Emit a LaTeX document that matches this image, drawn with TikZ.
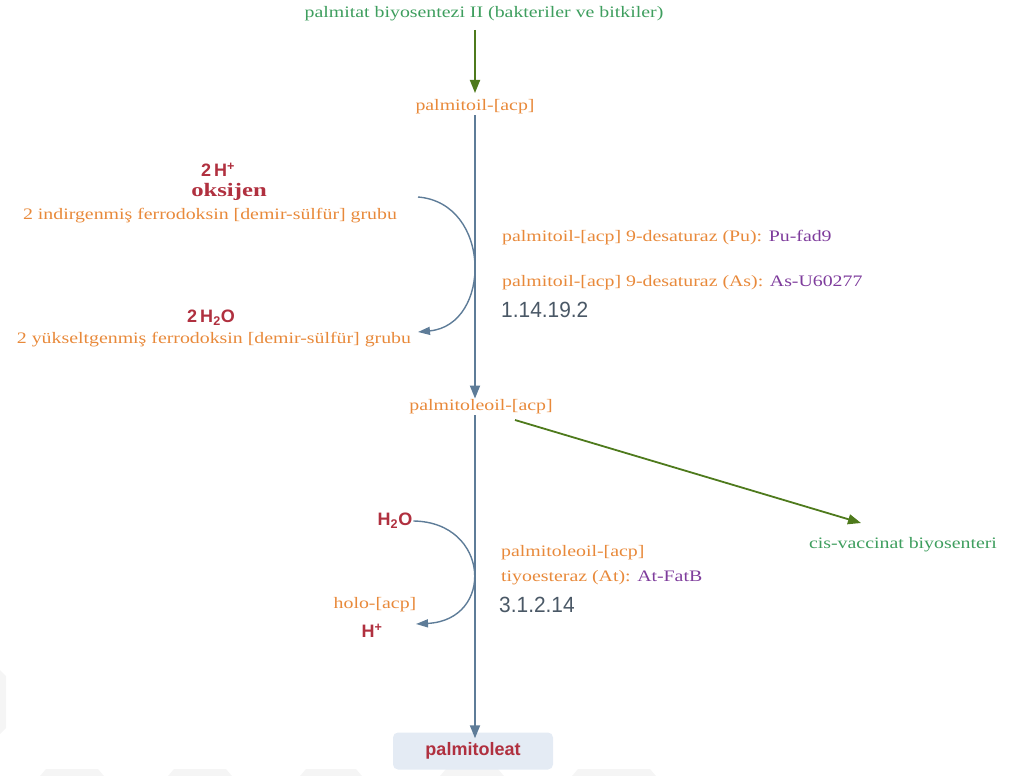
\documentclass[tikz,border=0pt]{standalone}
\usepackage{fontspec}
\setmainfont{Liberation Serif}[FakeStretch=1.24]
\newfontfamily\widebold{Liberation Serif}[FakeStretch=1.3]
\newfontfamily\labsans{Liberation Sans}
\newfontfamily\ecsans{Liberation Sans}[FakeStretch=0.95]
\usetikzlibrary{arrows.meta}
\definecolor{cpdorange}{HTML}{E8893A}
\definecolor{pathgreen}{HTML}{3E9E5E}
\definecolor{arrgreen}{HTML}{4E7A1C}
\definecolor{enzpurple}{HTML}{7E3C9C}
\definecolor{sidered}{HTML}{B0303F}
\definecolor{rxnline}{HTML}{5E7C98}
\definecolor{ecgray}{HTML}{4A5866}
\definecolor{boxblue}{HTML}{E4EBF4}
\tikzset{
  cpd/.style={text=cpdorange, font=\fontsize{16}{18}\selectfont, inner sep=1pt},
  pathway/.style={text=pathgreen, font=\fontsize{16}{18}\selectfont, inner sep=1pt},
  side/.style={text=sidered, font=\labsans\bfseries\fontsize{18}{20}\selectfont, inner sep=1pt},
  enz/.style={anchor=west, font=\fontsize{16}{18}\selectfont, inner sep=1pt},
  ecnum/.style={anchor=west, text=ecgray, font=\ecsans\fontsize{22}{24}\selectfont, inner sep=1pt},
  mainrxn/.style={draw=rxnline, line width=1.8pt, -{Triangle[length=13pt,width=10pt]}},
  linkrxn/.style={draw=arrgreen, line width=1.8pt, -{Triangle[length=13pt,width=10pt]}},
  siderxn/.style={draw=rxnline, line width=1.4pt, -{Triangle[length=12pt,width=8pt]}}
}
\begin{document}
\begin{tikzpicture}[x=1pt,y=-1pt]
\useasboundingbox (0,0) rectangle (1013,776);

% faint background marks along the lower edge
\fill[gray!8] (0,670) -- (6,676) -- (6,728) -- (0,734) -- cycle;
\foreach \xa/\xb in {40/104,168/232,300/362,440/504,572/656}
  \fill[gray!8] (\xa,776) -- (\xa+6,769) -- (\xb-6,769) -- (\xb,776) -- cycle;

% main compounds
\node[pathway] (src) at (484,14) {palmitat biyosentezi II (bakteriler ve bitkiler)};
\node[cpd] (pacp) at (475,107) {palmitoil-[acp]};
\node[cpd] (poacp) at (481,407) {palmitoleoil-[acp]};
\node[pathway] (cisv) at (903,545) {cis-vaccinat biyosenteri};
\node[draw=none, fill=boxblue, rounded corners=5pt, minimum width=160pt, minimum height=37pt,
      text=sidered, font=\labsans\bfseries\fontsize{18}{20}\selectfont] (pol) at (473,751) {palmitoleat};

% reaction arrows
\coordinate (s0) at (475,30);
\coordinate (t0) at (475,93);
\draw[linkrxn] (s0) -- (t0);
\draw[mainrxn] (pacp.south) -- (poacp.north -| pacp);
\draw[mainrxn] (poacp.south -| pacp) -- ([yshift=-6pt]pol.north -| pacp);
\coordinate (s1) at (515,420);
\coordinate (t1) at (861,523);
\draw[linkrxn] (s1) -- (t1);

% desaturase side reaction
\node[side] (hp) at (218,170) {2\,H\textsuperscript{+}};
\node[text=sidered, font=\widebold\bfseries\fontsize{19}{21}\selectfont, inner sep=1pt] (oks) at (229,192) {oksijen};
\node[cpd] (fdred) at (210,216) {2 indirgenmiş ferrodoksin [demir-sülfür] grubu};
\node[side] (wat1) at (211,318) {2\,H\textsubscript{2}O};
\node[cpd] (fdox) at (214,340) {2 yükseltgenmiş ferrodoksin [demir-sülfür] grubu};
\coordinate (c1s) at (418,197);
\coordinate (c1e) at (418,332);
\draw[siderxn] (c1s) .. controls (492,203) and (492,325) .. (c1e);

\node[enz] (e1) at (501,238) {\textcolor{cpdorange}{palmitoil-[acp] 9-desaturaz (Pu):} \textcolor{enzpurple}{Pu-fad9}};
\node[enz] (e2) at (501,283) {\textcolor{cpdorange}{palmitoil-[acp] 9-desaturaz (As):} \textcolor{enzpurple}{As-U60277}};
\node[ecnum] (ec1) at (500,310) {1.14.19.2};

% thioesterase side reaction
\node[side] (wat2) at (395,521) {H\textsubscript{2}O};
\node[cpd] (holo) at (375,605) {holo-[acp]};
\node[side] (hp2) at (372,631) {H\textsuperscript{+}};
\draw[siderxn] (wat2.east) .. controls (490,522) and (495,620) .. (416,624);

\node[enz] (e3) at (500,553) {\textcolor{cpdorange}{palmitoleoil-[acp]}};
\node[enz] (e4) at (500,578) {\textcolor{cpdorange}{tiyoesteraz (At):} \textcolor{enzpurple}{At-FatB}};
\node[ecnum] (ec2) at (498,605) {3.1.2.14};
\end{tikzpicture}
\end{document}
